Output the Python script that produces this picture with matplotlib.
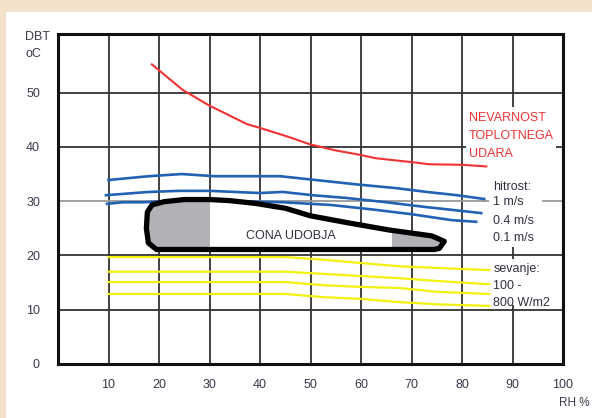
import matplotlib.pyplot as plt
from matplotlib.patches import Polygon, Rectangle

plt.rcParams['font.family'] = ['Liberation Sans', 'DejaVu Sans']

# heat stroke danger limit
red_rh = [18.6, 24.7, 29.8, 37.4, 40, 45.8, 49.8, 54.7, 60, 63, 70, 73.5, 80, 84.8]
red_t = [55.2, 50.5, 47.7, 44.2, 43.5, 41.8, 40.5, 39.4, 38.5, 37.9, 37.2, 36.8, 36.7, 36.4]

# upper comfort limits for air speed 1, 0.4 and 0.1 m/s
blue_rh = [
    [10, 18, 24.5, 31, 44, 51, 59, 67, 73, 79, 84.4],
    [9.5, 18, 24, 30, 40, 44.5, 50.4, 57, 65, 73, 78, 83.8],
    [9.7, 12.8, 17, 25, 44.5, 54, 62, 70, 78, 82.8],
]
blue_t = [
    [33.9, 34.6, 35.0, 34.6, 34.6, 33.9, 33.1, 32.4, 31.7, 31.1, 30.4],
    [31.1, 31.7, 31.9, 31.9, 31.5, 31.7, 31.1, 30.6, 29.8, 28.9, 28.4, 27.8],
    [29.5, 29.8, 29.8, 30.2, 29.8, 29.3, 28.5, 27.6, 26.5, 26.2],
]

# lower limits for radiation 100 - 800 W/m2
yellow_rh = [10, 45, 52.8, 60, 67.6, 75, 85.4]
yellow_t = [
    [19.7, 19.7, 19.2, 18.6, 18.0, 17.7, 17.3],
    [17.0, 17.0, 16.6, 16.2, 15.8, 15.3, 14.7],
    [15.1, 15.1, 14.5, 14.2, 14.0, 13.3, 12.9],
    [12.9, 12.9, 12.3, 12.0, 11.4, 11.0, 10.7],
]

# comfort zone outline
zone_rh = [19.5, 17.9, 17.5, 17.7, 18.6, 21, 25, 30, 34, 39, 45, 50, 57.5, 65.5, 74, 76.5, 75.5, 74.5, 40, 20.5]
zone_t = [21.1, 22.3, 25, 28.0, 29.3, 29.9, 30.3, 30.3, 30.1, 29.6, 28.7, 27.3, 26.0, 24.7, 23.6, 22.6, 21.3, 21.1, 21.1, 21.1]

x_ticks = [10, 20, 30, 40, 50, 60, 70, 80, 90, 100]
y_ticks = [0, 10, 20, 30, 40, 50]

fig = plt.figure(figsize=(5.92, 4.18), dpi=100, facecolor='#F2E2CC')
fig.patches.append(Rectangle((6 / 592, 0), 1, 406 / 418, transform=fig.transFigure,
                             facecolor='white', edgecolor='none', zorder=-1))

ax = fig.add_axes([58 / 592, 54 / 418, 505 / 592, 330 / 418])
ax.set_zorder(1)
ax.set_xlim(0, 100)
ax.set_ylim(0, 60.8)

for x in x_ticks[:-1]:
    ax.axvline(x, color='#333333', lw=1.3, zorder=1)
for y in y_ticks[1:]:
    ax.axhline(y, color='#999999' if y == 30 else '#333333', lw=1.3, zorder=1)

# white areas behind the labels on the right
for x0, y0, w, h in [(80.8, 37.5, 17.8, 9.8), (85.4, 21.6, 10.4, 16.0), (86.5, 10.9, 12.5, 8.5)]:
    ax.add_patch(Rectangle((x0, y0), w, h, facecolor='white', edgecolor='none', zorder=2))

ax.plot(red_rh, red_t, color='#F03232', lw=1.5, zorder=3)
for rh, t in zip(blue_rh, blue_t):
    ax.plot(rh, t, color='#2262B4', lw=1.9, zorder=3)
for t in yellow_t:
    ax.plot(yellow_rh, t, color='#F4F010', lw=1.6, zorder=3)

pts = list(zip(zone_rh, zone_t))
face = Polygon(pts, closed=True, facecolor='white', edgecolor='none', zorder=4)
ax.add_patch(face)
for x0, x1 in [(0, 30), (66.2, 100)]:
    g = Rectangle((x0, 0), x1 - x0, 60, facecolor='#B2B2B6', edgecolor='none', zorder=4.1)
    ax.add_patch(g)
    g.set_clip_path(face)
ax.add_patch(Polygon(pts, closed=True, fill=False, edgecolor='black', lw=3.8,
                     joinstyle='round', zorder=4.2))
ax.text(46.2, 23.6, 'CONA UDOBJA', fontsize=9, color='#303040', ha='center', va='center', zorder=5)

red_text = ['NEVARNOST', 'TOPLOTNEGA', 'UDARA']
for i, s in enumerate(red_text):
    ax.text(81.4, 45.3 - 3.3 * i, s, fontsize=9, color='#F03232', va='center', zorder=5)

labels = [('hitrost:', 32.6), ('1 m/s', 29.8), ('0.4 m/s', 26.3), ('0.1 m/s', 23.2),
          ('sevanje:', 17.5), ('100 -', 14.4), ('800 W/m2', 11.2)]
for s, y in labels:
    ax.text(86.2, y, s, fontsize=9, color='#303040', va='center', zorder=5)

for s in ax.spines.values():
    s.set_linewidth(2.2)
    s.set_color('#111111')
ax.set_xticks(x_ticks)
ax.set_yticks(y_ticks)
ax.tick_params(length=0, labelsize=9, colors='#3A3A4A')
ax.tick_params(axis='x', pad=11)
ax.tick_params(axis='y', pad=13)

fig.text(25 / 592, 1 - 37 / 418, 'DBT', fontsize=9, color='#3A3A4A', va='center')
fig.text(25 / 592, 1 - 54 / 418, 'oC', fontsize=9, color='#3A3A4A', va='center')
fig.text(590 / 592, 1 - 403 / 418, 'RH %', fontsize=8.5, color='#3A3A4A', ha='right', va='center')

fig.savefig('out.png', dpi=100, facecolor=fig.get_facecolor())
